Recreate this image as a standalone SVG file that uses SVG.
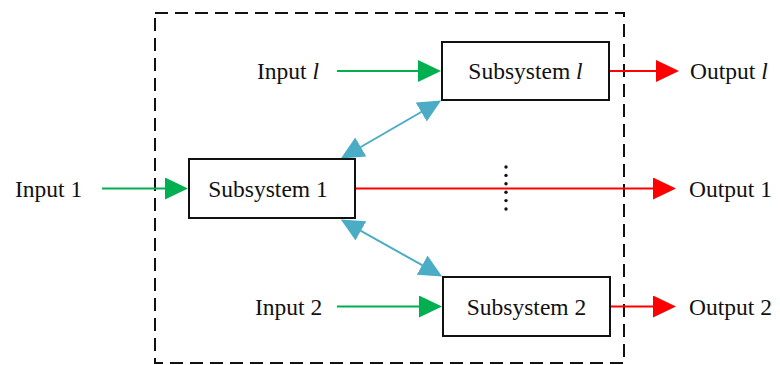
<svg xmlns="http://www.w3.org/2000/svg" width="780" height="365" viewBox="0 0 780 365">
<style>
text{font-family:"Liberation Serif","Times New Roman",serif;font-size:23.5px;fill:#111}
.box{fill:#fff;stroke:#111;stroke-width:2}
.g{stroke:#00B050;stroke-width:1.8;fill:none}
.r{stroke:#FF0000;stroke-width:2;fill:none}
.b{stroke:#4BACC6;stroke-width:2;fill:none}
.it{font-style:italic}
</style>
<defs>
<marker id="ag" viewBox="0 -11 23 22" markerWidth="23" markerHeight="22" refX="1" refY="0" orient="auto" markerUnits="userSpaceOnUse"><path d="M0,-11 L23,0 L0,11 z" fill="#00B050"/></marker>
<marker id="ar" viewBox="0 -11 23 22" markerWidth="23" markerHeight="22" refX="1" refY="0" orient="auto" markerUnits="userSpaceOnUse"><path d="M0,-11 L23,0 L0,11 z" fill="#FF0000"/></marker>
<marker id="ab" viewBox="0 -11 23 22" markerWidth="23" markerHeight="22" refX="1" refY="0" orient="auto-start-reverse" markerUnits="userSpaceOnUse"><path d="M0,-11 L23,0 L0,11 z" fill="#4BACC6"/></marker>
</defs>
<rect x="155" y="13" width="469" height="350" fill="none" stroke="#111" stroke-width="2" stroke-dasharray="13 7"/>
<g id="connectors">
<path class="g" d="M337,71 H419" marker-end="url(#ag)"/>
<path class="g" d="M102,188.5 H166" marker-end="url(#ag)"/>
<path class="g" d="M337,306.5 H420" marker-end="url(#ag)"/>
<path class="r" d="M609,71 H657" marker-end="url(#ar)"/>
<path class="r" d="M355,188.5 H654" marker-end="url(#ar)"/>
<path class="r" d="M610,306.5 H654" marker-end="url(#ar)"/>
<path class="b" d="M359.9,147.5 L422.1,111.5" marker-start="url(#ab)" marker-end="url(#ab)"/>
<path class="b" d="M360,230.3 L423,265.7" marker-start="url(#ab)" marker-end="url(#ab)"/>
</g>
<g id="dots" fill="#111">
<circle cx="506" cy="167" r="1.7"/><circle cx="506" cy="175.4" r="1.7"/><circle cx="506" cy="183.8" r="1.7"/><circle cx="506" cy="192.2" r="1.7"/><circle cx="506" cy="200.6" r="1.7"/><circle cx="506" cy="209" r="1.7"/>
</g>
<g id="subsystem-l"><rect class="box" x="442" y="42" width="167" height="58"/><text x="525.5" y="79" text-anchor="middle">Subsystem <tspan class="it">l</tspan></text></g>
<g id="subsystem-1"><rect class="box" x="189" y="159" width="166" height="59"/><text x="268" y="196.5" text-anchor="middle">Subsystem 1</text></g>
<g id="subsystem-2"><rect class="box" x="443" y="277" width="167" height="59"/><text x="526.5" y="314.5" text-anchor="middle">Subsystem 2</text></g>
<g id="input-l"><text x="257" y="79">Input <tspan class="it">l</tspan></text></g>
<g id="input-1"><text x="15" y="196.5">Input 1</text></g>
<g id="input-2"><text x="255" y="314.5">Input 2</text></g>
<g id="output-l"><text x="690" y="79">Output <tspan class="it">l</tspan></text></g>
<g id="output-1"><text x="689" y="196.5">Output 1</text></g>
<g id="output-2"><text x="689" y="314.5">Output 2</text></g>
</svg>
